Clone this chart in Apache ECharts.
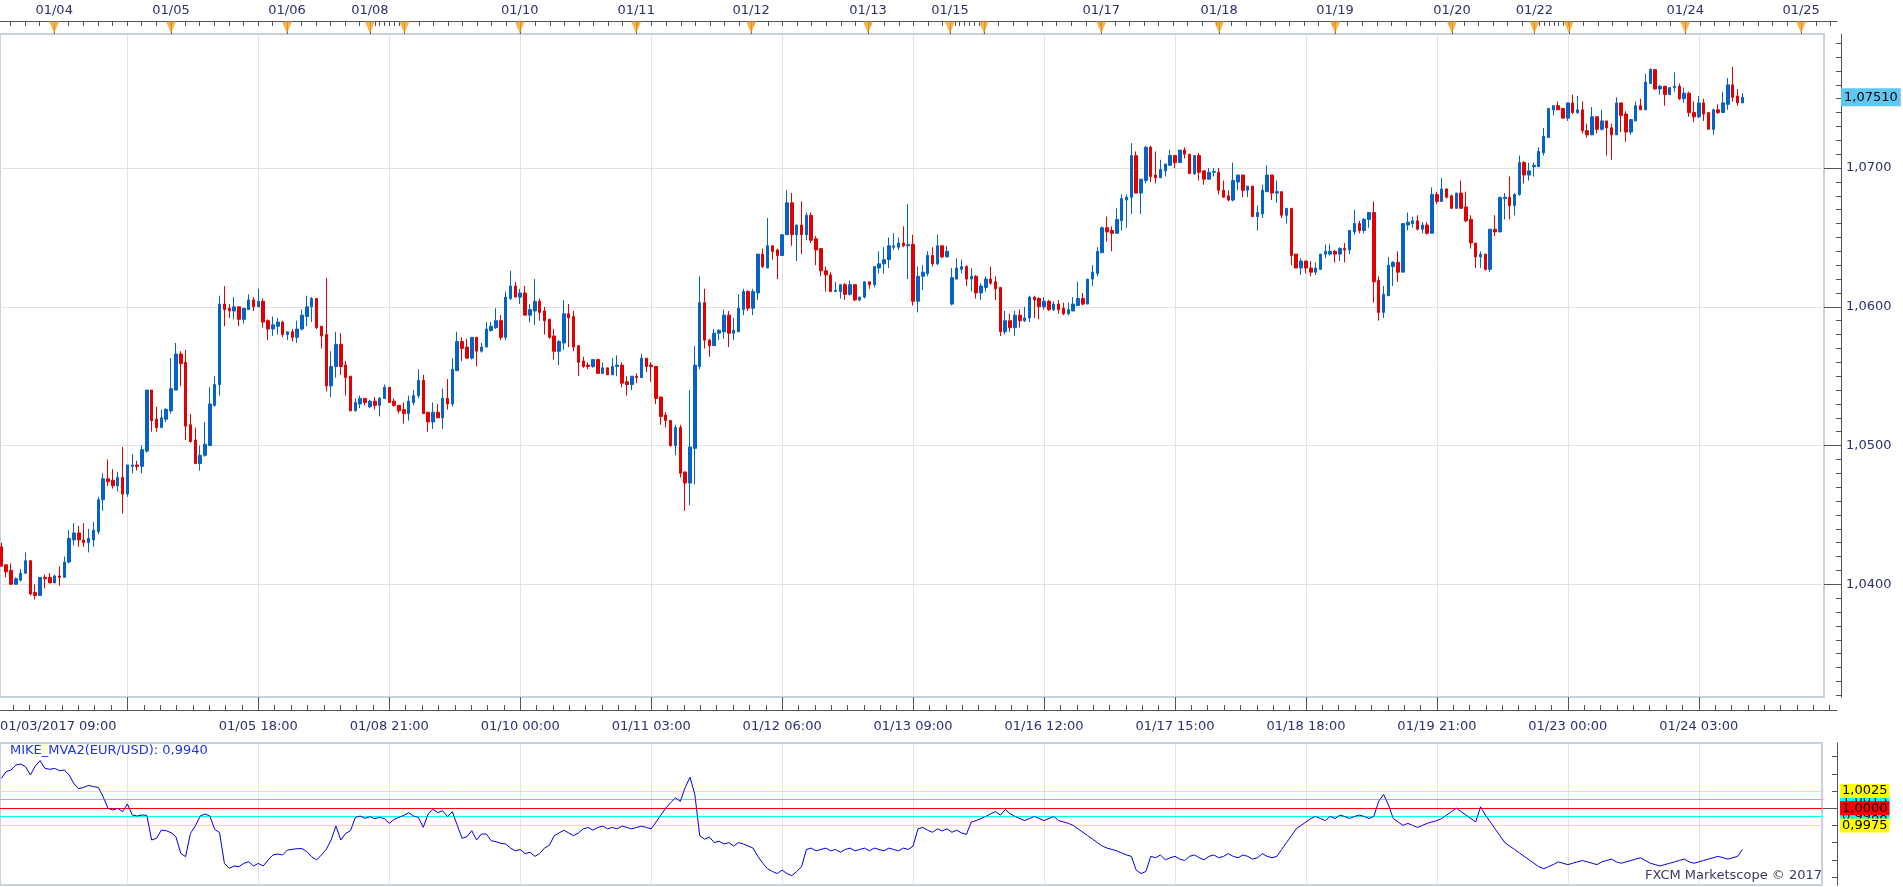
<!DOCTYPE html>
<html><head><meta charset="utf-8">
<script src="https://cdn.jsdelivr.net/npm/echarts@6/dist/echarts.min.js"></script>
<style>html,body{margin:0;padding:0;background:#fff}#c{width:1903px;height:887px}</style>
</head><body><div id="c"></div>
<script>
// ---------------- DATA ----------------
const open = [1.0427,1.0414,1.0410,1.0400,1.0403,1.0408,1.0417,1.0394,1.0392,1.0405,1.0405,1.0401,1.0406,1.0405,1.0416,1.0432,1.0437,1.0432,1.0430,1.0432,1.0438,1.0461,1.0476,1.0475,1.0471,1.0477,1.0465,1.0485,1.0486,1.0485,1.0496,1.0540,1.0519,1.0513,1.0519,1.0525,1.0540,1.0566,1.0560,1.0515,1.0504,1.0487,1.0493,1.0500,1.0529,1.0544,1.0602,1.0599,1.0597,1.0600,1.0591,1.0598,1.0605,1.0600,1.0604,1.0590,1.0584,1.0586,1.0589,1.0580,1.0582,1.0578,1.0584,1.0593,1.0600,1.0606,1.0586,1.0580,1.0543,1.0557,1.0573,1.0558,1.0550,1.0525,1.0530,1.0534,1.0528,1.0532,1.0529,1.0534,1.0542,1.0532,1.0529,1.0526,1.0523,1.0531,1.0536,1.0547,1.0524,1.0517,1.0524,1.0520,1.0534,1.0530,1.0554,1.0575,1.0571,1.0563,1.0578,1.0568,1.0571,1.0583,1.0585,1.0590,1.0578,1.0606,1.0615,1.0607,1.0610,1.0594,1.0597,1.0604,1.0597,1.0591,1.0579,1.0568,1.0574,1.0595,1.0593,1.0572,1.0561,1.0558,1.0557,1.0562,1.0552,1.0556,1.0551,1.0557,1.0558,1.0546,1.0544,1.0550,1.0549,1.0563,1.0558,1.0557,1.0535,1.0522,1.0518,1.0500,1.0513,1.0481,1.0473,1.0498,1.0557,1.0603,1.0576,1.0572,1.0581,1.0582,1.0594,1.0581,1.0582,1.0598,1.0611,1.0599,1.0610,1.0638,1.0628,1.0644,1.0641,1.0637,1.0652,1.0675,1.0652,1.0659,1.0652,1.0666,1.0649,1.0642,1.0626,1.0623,1.0611,1.0611,1.0616,1.0609,1.0616,1.0605,1.0607,1.0618,1.0616,1.0628,1.0631,1.0634,1.0643,1.0643,1.0646,1.0644,1.0645,1.0604,1.0622,1.0624,1.0637,1.0631,1.0644,1.0636,1.0602,1.0620,1.0627,1.0629,1.0620,1.0622,1.0610,1.0614,1.0620,1.0618,1.0614,1.0582,1.0590,1.0585,1.0594,1.0590,1.0592,1.0607,1.0606,1.0600,1.0604,1.0598,1.0602,1.0599,1.0595,1.0597,1.0601,1.0606,1.0602,1.0620,1.0624,1.0639,1.0657,1.0655,1.0653,1.0662,1.0677,1.0679,1.0709,1.0682,1.0691,1.0715,1.0695,1.0693,1.0698,1.0702,1.0709,1.0704,1.0713,1.0710,1.0696,1.0709,1.0698,1.0692,1.0697,1.0697,1.0684,1.0680,1.0677,1.0690,1.0695,1.0684,1.0687,1.0665,1.0667,1.0683,1.0695,1.0682,1.0683,1.0666,1.0671,1.0638,1.0628,1.0633,1.0628,1.0625,1.0627,1.0638,1.0638,1.0640,1.0638,1.0642,1.0641,1.0654,1.0660,1.0655,1.0663,1.0668,1.0619,1.0596,1.0608,1.0629,1.0632,1.0625,1.0659,1.0660,1.0662,1.0656,1.0659,1.0653,1.0681,1.0676,1.0685,1.0680,1.0671,1.0682,1.0672,1.0663,1.0646,1.0636,1.0638,1.0627,1.0656,1.0654,1.0678,1.0679,1.0673,1.0681,1.0704,1.0695,1.0701,1.0701,1.0711,1.0722,1.0742,1.0745,1.0743,1.0736,1.0747,1.0740,1.0742,1.0727,1.0724,1.0737,1.0728,1.0734,1.0729,1.0724,1.0747,1.0739,1.0726,1.0734,1.0745,1.0742,1.0761,1.0771,1.0757,1.0759,1.0753,1.0758,1.0759,1.0750,1.0754,1.0740,1.0737,1.0747,1.0740,1.0728,1.0742,1.0740,1.0746,1.0760,1.0752,1.0747];
const close = [1.0413,1.0409,1.0400,1.0404,1.0408,1.0417,1.0393,1.0392,1.0405,1.0404,1.0401,1.0406,1.0405,1.0416,1.0433,1.0437,1.0432,1.0430,1.0433,1.0439,1.0461,1.0476,1.0474,1.0471,1.0477,1.0465,1.0486,1.0486,1.0485,1.0497,1.0540,1.0518,1.0513,1.0520,1.0526,1.0541,1.0566,1.0559,1.0514,1.0503,1.0487,1.0493,1.0501,1.0530,1.0544,1.0602,1.0598,1.0597,1.0600,1.0591,1.0599,1.0605,1.0600,1.0604,1.0589,1.0584,1.0587,1.0589,1.0580,1.0582,1.0578,1.0584,1.0594,1.0600,1.0606,1.0585,1.0579,1.0543,1.0557,1.0573,1.0557,1.0549,1.0525,1.0531,1.0534,1.0531,1.0532,1.0529,1.0534,1.0542,1.0531,1.0529,1.0525,1.0523,1.0532,1.0536,1.0547,1.0523,1.0517,1.0524,1.0520,1.0534,1.0530,1.0555,1.0575,1.0570,1.0563,1.0578,1.0568,1.0571,1.0584,1.0586,1.0590,1.0578,1.0607,1.0615,1.0607,1.0610,1.0594,1.0598,1.0604,1.0596,1.0590,1.0578,1.0568,1.0575,1.0595,1.0592,1.0571,1.0560,1.0557,1.0557,1.0562,1.0552,1.0556,1.0551,1.0557,1.0558,1.0545,1.0544,1.0550,1.0549,1.0563,1.0557,1.0557,1.0534,1.0521,1.0518,1.0500,1.0513,1.0480,1.0473,1.0499,1.0558,1.0603,1.0576,1.0572,1.0581,1.0583,1.0594,1.0581,1.0583,1.0599,1.0611,1.0599,1.0611,1.0638,1.0629,1.0644,1.0640,1.0637,1.0652,1.0675,1.0652,1.0659,1.0652,1.0666,1.0648,1.0641,1.0626,1.0623,1.0611,1.0612,1.0616,1.0609,1.0616,1.0605,1.0607,1.0618,1.0616,1.0629,1.0631,1.0634,1.0644,1.0644,1.0646,1.0644,1.0645,1.0604,1.0622,1.0625,1.0637,1.0631,1.0644,1.0636,1.0640,1.0621,1.0628,1.0629,1.0620,1.0622,1.0610,1.0615,1.0620,1.0617,1.0613,1.0582,1.0590,1.0585,1.0594,1.0590,1.0592,1.0607,1.0605,1.0600,1.0604,1.0598,1.0602,1.0598,1.0595,1.0598,1.0602,1.0606,1.0602,1.0620,1.0625,1.0640,1.0657,1.0654,1.0653,1.0663,1.0678,1.0679,1.0709,1.0682,1.0692,1.0715,1.0694,1.0693,1.0699,1.0703,1.0709,1.0704,1.0713,1.0710,1.0696,1.0709,1.0697,1.0692,1.0697,1.06975,1.0684,1.0679,1.0677,1.0691,1.0695,1.0684,1.0687,1.0665,1.0668,1.0684,1.0695,1.0682,1.0683,1.0666,1.0671,1.0637,1.0628,1.0633,1.0628,1.0625,1.0628,1.0638,1.0640,1.0640,1.0638,1.0642,1.0641,1.0655,1.0660,1.0655,1.0663,1.0668,1.0618,1.0596,1.0609,1.0630,1.0632,1.0625,1.0660,1.0661,1.0662,1.0656,1.0659,1.0653,1.0681,1.0676,1.0685,1.0679,1.0671,1.0682,1.0671,1.0662,1.0646,1.0636,1.0638,1.0627,1.0656,1.0654,1.0679,1.0679,1.0673,1.0681,1.0704,1.0695,1.0698,1.0702,1.0712,1.0723,1.0743,1.0745,1.0742,1.0736,1.0747,1.0740,1.0742,1.0727,1.0724,1.0737,1.0728,1.0734,1.0729,1.0724,1.0747,1.0738,1.0726,1.0735,1.0745,1.0742,1.0762,1.0771,1.0757,1.0759,1.0753,1.0758,1.0759,1.0750,1.0754,1.0740,1.0737,1.0747,1.0739,1.0728,1.0742,1.0740,1.0747,1.0760,1.0751,1.0747,1.0751];
const low = [1.0413,1.0405,1.0400,1.0400,1.0402,1.0408,1.0392,1.0389,1.0392,1.0397,1.0401,1.0401,1.0399,1.0405,1.0415,1.0428,1.0427,1.0427,1.0423,1.0427,1.0436,1.0453,1.0471,1.0469,1.0467,1.0451,1.0463,1.0480,1.0482,1.0480,1.0495,1.0510,1.0510,1.0513,1.0517,1.0523,1.0540,1.0543,1.0504,1.0502,1.0487,1.0482,1.0492,1.0500,1.0528,1.0536,1.0586,1.0592,1.0591,1.0586,1.0588,1.0598,1.0597,1.0600,1.0585,1.0576,1.0579,1.0580,1.0578,1.0576,1.0575,1.0574,1.0583,1.0586,1.0589,1.0584,1.0570,1.0539,1.0535,1.0549,1.0551,1.0536,1.0525,1.0525,1.0527,1.0529,1.0527,1.0526,1.0521,1.0534,1.0531,1.0528,1.0523,1.0516,1.0518,1.0529,1.0534,1.0523,1.0510,1.0512,1.0520,1.0512,1.0526,1.0528,1.0554,1.0561,1.0563,1.0562,1.0557,1.0567,1.0571,1.0582,1.0584,1.0576,1.0576,1.0605,1.0607,1.0602,1.0594,1.0589,1.0587,1.0590,1.0580,1.0577,1.0562,1.0558,1.0569,1.0571,1.0568,1.0550,1.0556,1.0555,1.0556,1.0552,1.0552,1.0551,1.0551,1.0550,1.0542,1.0536,1.0540,1.0545,1.0549,1.0553,1.0546,1.0530,1.0515,1.0513,1.0499,1.0493,1.0477,1.0453,1.0457,1.0472,1.0555,1.0570,1.0564,1.0572,1.0576,1.0577,1.0571,1.0576,1.0582,1.0594,1.0597,1.0594,1.0605,1.0628,1.0628,1.0634,1.0620,1.0637,1.0652,1.0644,1.0633,1.0638,1.0648,1.0646,1.0630,1.0622,1.0611,1.0611,1.0611,1.0606,1.0605,1.0608,1.0604,1.0604,1.0606,1.0613,1.0614,1.0624,1.0624,1.0628,1.0641,1.0641,1.0643,1.0620,1.0601,1.0596,1.0612,1.0622,1.0629,1.0630,1.0635,1.0636,1.0601,1.0620,1.0624,1.0615,1.0611,1.0606,1.0605,1.0611,1.0616,1.0605,1.0579,1.0580,1.0582,1.0579,1.0585,1.0589,1.0589,1.0592,1.0591,1.0598,1.0597,1.0597,1.0595,1.0594,1.0594,1.0597,1.0601,1.0601,1.0602,1.0615,1.0622,1.0639,1.0647,1.0640,1.0653,1.0655,1.0657,1.0667,1.0682,1.0667,1.0689,1.0690,1.0689,1.0693,1.0694,1.0702,1.0700,1.0704,1.0707,1.0696,1.0695,1.0691,1.0688,1.0692,1.0694,1.0681,1.0679,1.0676,1.0676,1.0684,1.0679,1.0679,1.0665,1.0655,1.0664,1.0683,1.0677,1.0675,1.0664,1.0660,1.0630,1.0628,1.0623,1.0624,1.0622,1.0623,1.0627,1.0635,1.0637,1.0632,1.0633,1.0632,1.0638,1.0652,1.0653,1.0653,1.0657,1.0603,1.0590,1.0592,1.0608,1.0615,1.0618,1.0625,1.0655,1.0657,1.0655,1.0653,1.0652,1.0653,1.0674,1.0676,1.0678,1.0671,1.0671,1.0671,1.0661,1.0642,1.0628,1.0628,1.0626,1.0625,1.0651,1.0654,1.0663,1.0663,1.0666,1.0680,1.0689,1.0691,1.0694,1.0701,1.0709,1.0722,1.0738,1.0742,1.0736,1.0734,1.0739,1.0739,1.0725,1.0722,1.0724,1.0725,1.0727,1.0709,1.0706,1.0724,1.0726,1.0719,1.0724,1.0734,1.0742,1.0742,1.0761,1.0757,1.0753,1.0745,1.0753,1.0755,1.0749,1.0747,1.0737,1.0733,1.0736,1.0734,1.0728,1.0724,1.0739,1.0740,1.0742,1.0748,1.0745,1.0747];
const high = [1.0430,1.0414,1.0415,1.0405,1.0411,1.0423,1.0417,1.0400,1.0405,1.0407,1.0408,1.0407,1.0413,1.0420,1.0439,1.0444,1.0442,1.0444,1.0440,1.0445,1.0463,1.0480,1.0490,1.0483,1.0481,1.0499,1.0486,1.0494,1.0489,1.0500,1.0540,1.0540,1.0528,1.0526,1.0527,1.0563,1.0574,1.0568,1.0569,1.0523,1.0513,1.0500,1.0517,1.0542,1.0550,1.0608,1.0615,1.0602,1.0607,1.0600,1.0599,1.0609,1.0607,1.0613,1.0606,1.0591,1.0593,1.0592,1.0590,1.0582,1.0584,1.0590,1.0598,1.0608,1.0607,1.0606,1.0586,1.0621,1.0568,1.0582,1.0581,1.0561,1.0550,1.0534,1.0536,1.0534,1.0533,1.0535,1.0535,1.0544,1.0542,1.0534,1.0529,1.0531,1.0536,1.0540,1.0555,1.0551,1.0524,1.0531,1.0530,1.0541,1.0548,1.0563,1.0582,1.0578,1.0577,1.0578,1.0578,1.0574,1.0589,1.0589,1.0599,1.0594,1.0611,1.0626,1.0618,1.0613,1.0615,1.0602,1.0620,1.0606,1.0600,1.0591,1.0584,1.0576,1.0605,1.0602,1.0597,1.0572,1.0564,1.0560,1.0562,1.0562,1.0560,1.0556,1.0563,1.0565,1.0560,1.0550,1.0550,1.0552,1.0566,1.0563,1.0560,1.0557,1.0535,1.0524,1.0518,1.0515,1.0515,1.0481,1.0540,1.0572,1.0622,1.0613,1.0577,1.0584,1.0584,1.0598,1.0597,1.0592,1.0609,1.0613,1.0612,1.0613,1.0638,1.0642,1.0664,1.0644,1.0642,1.0652,1.0684,1.0682,1.0659,1.0676,1.0668,1.0668,1.0651,1.0642,1.0629,1.0625,1.0618,1.0616,1.0617,1.0619,1.0616,1.0607,1.0618,1.0618,1.0629,1.0640,1.0643,1.0650,1.0653,1.0650,1.0658,1.0674,1.0652,1.0629,1.0630,1.0640,1.0643,1.0652,1.0644,1.0644,1.0628,1.0635,1.0634,1.0630,1.0628,1.0623,1.0617,1.0622,1.0629,1.0622,1.0614,1.0597,1.0595,1.0597,1.0598,1.0600,1.0608,1.0608,1.0607,1.0607,1.0605,1.0604,1.0605,1.0603,1.0603,1.0607,1.0618,1.0610,1.0620,1.0630,1.0643,1.0658,1.0665,1.0658,1.0671,1.0681,1.0681,1.0718,1.0712,1.0692,1.0716,1.0716,1.0712,1.0706,1.0703,1.0713,1.0709,1.0713,1.0715,1.0710,1.0709,1.0711,1.0698,1.0700,1.0700,1.0700,1.0691,1.0684,1.0704,1.0695,1.0695,1.0687,1.0687,1.0673,1.0688,1.0702,1.0695,1.0691,1.0683,1.0671,1.0671,1.0638,1.0635,1.0633,1.0633,1.0632,1.0638,1.0645,1.0645,1.0641,1.0643,1.0646,1.0655,1.0670,1.0662,1.0664,1.0668,1.0676,1.0622,1.0615,1.0636,1.0633,1.0640,1.0660,1.0668,1.0665,1.0666,1.0661,1.0661,1.0686,1.0683,1.0693,1.0685,1.0681,1.0682,1.0691,1.0683,1.0666,1.0646,1.0640,1.0638,1.0656,1.0666,1.0679,1.0682,1.0694,1.0682,1.0709,1.0705,1.0704,1.0704,1.0715,1.0729,1.0743,1.0745,1.0748,1.0743,1.0747,1.0753,1.0752,1.0748,1.0732,1.0744,1.0737,1.0742,1.0734,1.0732,1.0751,1.0747,1.0741,1.0735,1.0748,1.0750,1.0768,1.0772,1.0771,1.0760,1.0759,1.0758,1.0769,1.0761,1.0758,1.0755,1.0748,1.0752,1.0750,1.0740,1.0743,1.0746,1.0755,1.0765,1.0773,1.0757,1.0754];
const mva = [1.00434,1.00531,1.00555,1.00628,1.00642,1.00603,1.00482,1.00613,1.00691,1.00579,1.00565,1.00579,1.00545,1.00555,1.00482,1.00352,1.00284,1.00303,1.00332,1.00313,1.00303,1.00167,0.99998,0.99974,0.99998,0.99949,1.00061,0.99901,0.99886,0.99901,0.99896,0.99538,0.99562,0.99683,0.99673,0.99644,0.99586,0.99344,0.99295,0.99634,0.99741,0.99886,0.99915,0.99886,0.99693,0.99644,0.99198,0.99126,0.9916,0.9915,0.99198,0.99223,0.9916,0.99198,0.9916,0.99247,0.9932,0.99334,0.9932,0.99392,0.99402,0.99412,0.99412,0.99368,0.99295,0.99247,0.9932,0.99402,0.99538,0.99741,0.99538,0.99634,0.99673,0.99867,0.99886,0.99852,0.99877,0.99848,0.99867,0.99848,0.9978,0.99838,0.99867,0.99896,0.99935,0.99886,0.99867,0.99722,0.99915,0.99983,0.99935,0.99964,0.99877,0.99949,0.99756,0.99562,0.99586,0.99673,0.99538,0.99625,0.99625,0.99528,0.99513,0.99489,
0.9948,0.9942,0.9938,0.994,0.9934,0.9936,0.993,0.9934,0.9942,0.9946,
0.996,0.9964,0.9968,0.9964,0.996,0.9964,
0.997,0.9972,0.9968,0.9972,0.9974,0.997,0.9972,0.997,0.9974,0.9972,0.997,0.9972,0.9974,0.9972,0.997,
0.998,0.999,1.0,1.0008,1.0015,1.001,1.003,1.0045,1.002,
0.996,0.9955,0.9958,0.995,0.9952,0.9948,0.995,0.9945,0.995,0.9948,0.9945,0.9942,
0.993,0.992,0.9912,0.9908,0.9905,0.991,0.9905,0.9902,0.9908,0.9915,
0.994,0.9942,0.9938,0.994,0.9942,0.9938,0.994,0.9936,0.994,0.9942,0.9938,0.994,0.9942,0.9938,0.9942,0.994,0.9938,0.9942,0.994,0.9938,0.9942,0.994,0.9945,
0.997,0.9972,0.9968,0.9965,0.997,0.9967,0.997,0.9965,0.9968,0.9964,0.9962,
0.998,0.9982,0.9985,0.9988,0.9992,0.9995,0.999,0.9998,0.9992,0.9988,0.9985,0.9982,0.9985,0.9988,0.9985,0.9982,0.9985,0.9988,0.9982,0.998,0.9978,
0.9975,0.997,0.9965,0.996,0.9955,0.995,0.9945,0.9942,0.994,0.9938,0.9935,0.9932,0.993,
0.991,0.9905,0.9908,
0.993,0.9928,0.9932,0.9925,0.9928,0.993,0.9926,0.9924,0.993,0.9932,0.9928,0.9925,0.993,0.9932,0.9928,0.993,0.9934,0.993,0.9928,0.9932,0.993,0.9926,0.9928,0.9934,0.993,0.9928,0.993,
0.994,0.995,0.996,0.997,0.9975,0.998,0.9985,0.9988,0.9985,0.9982,0.9988,0.9985,0.999,0.9988,0.9985,0.9988,0.999,0.9988,0.9985,0.9988,
1.001,1.002,1.0005,0.9985,0.998,0.9975,0.9978,
0.9975,0.9972,0.9975,0.9978,0.998,0.9982,0.9985,0.999,0.9995,1.0,0.9995,0.999,0.9985,0.998,
1.0002,0.999,0.998,0.997,0.996,0.995,0.9945,0.994,0.9935,0.993,0.9925,0.992,0.9915,0.9912,0.9915,0.9918,
0.9922,0.992,0.9918,0.992,0.9922,0.9924,0.9922,0.992,0.9918,0.9922,0.9924,0.9926,0.9922,0.992,0.9922,0.9924,0.9926,0.9928,0.9924,0.992,0.9918,0.9916,0.9918,0.992,0.9922,0.9924,0.9926,0.9922,0.992,0.9922,0.9924,0.9926,0.9928,0.993,0.9928,0.9926,0.9928,0.993,0.994];

// level lines (listed in drawing order, later ones on top)
const levelValues = [1.0013, 0.9988, 1.0025, 0.9975, 1.0000];
const levelColors = ['#00ffff', '#00ffff', '#ffff00', '#ffff00', '#ff0000'];

const dayMarkers = [10.9, 35.0, 58.9, 76.0, 83.1, 106.9, 130.9, 154.6, 178.7, 195.6, 202.6, 226.8, 251.1, 275.0, 299.1, 316.1, 323.2, 347.2, 371.1];
const dayLabels  = ['01/04','01/05','01/06','01/08','','01/10','01/11','01/12','01/13','01/15','','01/17','01/18','01/19','01/20','01/22','','01/24','01/25'];

const timeGrid   = [26, 53, 80, 107, 134, 161, 188, 215, 242, 269, 296, 323, 350];
const timeLabels = ['', '01/05 18:00', '01/08 21:00', '01/10 00:00', '01/11 03:00', '01/12 06:00', '01/13 09:00', '01/16 12:00', '01/17 15:00', '01/18 18:00', '01/19 21:00', '01/23 00:00', '01/24 03:00'];
const firstTimeLabel = '01/03/2017 09:00';

const priceTicks = [1.04, 1.05, 1.06, 1.07];
const mvaTicks = [0.99, 0.9925, 0.995, 0.9975, 1.0, 1.0025, 1.005, 1.0075];
const indicatorName = 'MIKE_MVA2(EUR/USD)';
const footer = 'FXCM Marketscope © 2017';

// ---------------- LAYOUT ----------------
const FONT = 'DejaVu Sans';
const TEXT = '#2d2f6e';
const AXIS = '#50545e';
const GRIDLINE = '#e2e2e2';
const FRAME = '#c9d1dc';
const UP = '#0563c7', DOWN = '#e00000';

const BAR_PX = 4.85, BAR0_PX = 1.3;
const X_MIN = -BAR0_PX / BAR_PX;
const xMaxFor = w => (w - BAR0_PX) / BAR_PX;

const MAIN = {top: 34, height: 663, width: 1824};
const IND = {top: 743, height: 142, width: 1822};
const AXIS_W = 1837;
const TOPSTRIP = {top: 21, height: 13};
const BOTSTRIP = {top: 697, height: 13};

const P_REF = 1.07, P_REF_Y = 168.1, P_K = 13873;
const mainMax = P_REF + (P_REF_Y - MAIN.top) / P_K;
const mainMin = P_REF - (MAIN.top + MAIN.height - P_REF_Y) / P_K;
const I_REF = 1.0, I_REF_Y = 808.2, I_K = 6880;
const indMax = I_REF + (I_REF_Y - IND.top) / I_K;
const indMin = I_REF - (IND.top + IND.height - I_REF_Y) / I_K;

const fmt = (v, d) => v.toFixed(d).replace('.', ',');
const near = (arr, v) => arr.findIndex(a => Math.abs(a - v) < 1e-6);

const minorPrice = [];
for (let k = 1032; k <= 1079; k++) minorPrice.push(k / 1000);
const minorTime = [];
for (let k = -8; k <= 110; k++) { const v = 26 + k * 27 / 8; if (v >= X_MIN && v <= xMaxFor(AXIS_W)) minorTime.push(v); }
const topTicks = [];
const segs = [[1.9, 76.0, 3], [76.0, 83.1, 1], [83.1, 195.6, 3], [195.6, 202.6, 1], [202.6, 316.1, 3], [316.1, 323.2, 1], [323.2, 378.4, 3]];
segs.forEach(([a, b, s]) => { for (let v = a; v < b - 0.01; v += s) topTicks.push(v); });

const labeledDays = dayMarkers.filter((m, i) => dayLabels[i] !== '');

const candleRows = open.map((o, i) => [i, o, close[i], low[i], high[i]]);
const mvaRows = mva.map((v, i) => [i, v]);
const lastClose = close[close.length - 1];
const lastMva = mva[mva.length - 1];

const chart = echarts.init(document.getElementById('c'), null, {renderer: 'canvas'});
const txt = {fontFamily: FONT, fontSize: 13, color: TEXT};

const hiddenX = (grid, w, extra) => Object.assign({
  type: 'value', gridIndex: grid, min: X_MIN, max: xMaxFor(w),
  axisLine: {show: false, onZero: false}, axisTick: {show: false}, axisLabel: {show: false}, splitLine: {show: false}
}, extra || {});
const yBase = (grid, min, max, offset, extra) => Object.assign({
  type: 'value', gridIndex: grid, position: 'right', offset: offset, min: min, max: max,
  axisLine: {show: false, onZero: false}, axisTick: {show: false}, axisLabel: {show: false}, splitLine: {show: false}
}, extra || {});

chart.setOption({
  animation: false,
  backgroundColor: '#ffffff',
  textStyle: {fontFamily: FONT},
  title: [
    {text: indicatorName + ': ' + fmt(lastMva, 4), left: 10, top: 744, padding: 0,
     textStyle: {fontFamily: FONT, fontSize: 13, fontWeight: 'normal', color: '#1f33e6'}},
    {text: footer, right: 1903 - IND.width, top: 869, padding: 0,
     textStyle: {fontFamily: FONT, fontSize: 13, fontWeight: 'normal', color: '#3a3b5e'}}
  ],
  grid: [
    {left: 0, top: MAIN.top, width: MAIN.width, height: MAIN.height, show: true, borderColor: FRAME, borderWidth: 2, outerBoundsMode: 'none', containLabel: false},
    {left: 0, top: IND.top, width: IND.width, height: IND.height, show: true, borderColor: FRAME, borderWidth: 2, outerBoundsMode: 'none', containLabel: false},
    {left: 0, top: TOPSTRIP.top, width: AXIS_W, height: TOPSTRIP.height, show: false, outerBoundsMode: 'none', containLabel: false},
    {left: 0, top: BOTSTRIP.top, width: AXIS_W, height: BOTSTRIP.height, show: false, outerBoundsMode: 'none', containLabel: false}
  ],
  xAxis: [
    hiddenX(0, MAIN.width, {axisTick: {show: false, customValues: timeGrid}, splitLine: {show: true, lineStyle: {color: GRIDLINE, width: 1}}}),
    hiddenX(1, IND.width, {axisTick: {show: false, customValues: timeGrid}, splitLine: {show: true, lineStyle: {color: GRIDLINE, width: 1}}}),
    hiddenX(2, AXIS_W, {position: 'top',
      axisLine: {show: true, onZero: false, lineStyle: {color: AXIS, width: 1}},
      axisTick: {show: true, inside: true, length: 5, customValues: topTicks, lineStyle: {color: AXIS}},
      axisLabel: Object.assign({show: true, margin: 4, customValues: labeledDays,
        formatter: v => dayLabels[near(dayMarkers, v)] || ''}, txt)}),
    hiddenX(3, AXIS_W, {position: 'bottom',
      axisLine: {show: true, onZero: false, lineStyle: {color: AXIS, width: 1}},
      axisTick: {show: true, inside: true, length: BOTSTRIP.height, customValues: timeGrid, lineStyle: {color: AXIS}},
      axisLabel: Object.assign({show: true, margin: 10, customValues: timeGrid.slice(1),
        formatter: v => timeLabels[near(timeGrid, v)] || ''}, txt)}),
    hiddenX(3, AXIS_W, {position: 'bottom',
      axisTick: {show: true, inside: true, length: 5, customValues: minorTime, lineStyle: {color: AXIS}}}),
    hiddenX(3, AXIS_W, {position: 'bottom',
      axisLabel: Object.assign({show: true, margin: 10, align: 'left', customValues: [X_MIN],
        formatter: () => firstTimeLabel}, txt)}),
    hiddenX(2, AXIS_W, {position: 'top',
      axisTick: {show: true, inside: true, length: TOPSTRIP.height, customValues: dayMarkers, lineStyle: {color: AXIS}}})
  ],
  yAxis: [
    yBase(0, mainMin, mainMax, 17, {
      axisLine: {show: true, onZero: false, lineStyle: {color: AXIS}},
      axisTick: {show: true, inside: true, length: 17, customValues: priceTicks, lineStyle: {color: AXIS}},
      axisLabel: Object.assign({show: true, margin: 5, customValues: priceTicks, formatter: v => fmt(v, 4)}, txt),
      splitLine: {show: true, lineStyle: {color: GRIDLINE, width: 1}}}),
    yBase(0, mainMin, mainMax, 17, {
      axisTick: {show: true, inside: true, length: 5, customValues: minorPrice, lineStyle: {color: AXIS}}}),
    yBase(1, indMin, indMax, 15, {
      axisLine: {show: true, onZero: false, lineStyle: {color: AXIS}},
      axisTick: {show: true, inside: true, length: 5, customValues: mvaTicks, lineStyle: {color: AXIS}}}),
    yBase(1, indMin, indMax, 15, {
      axisTick: {show: true, inside: true, length: 14, customValues: [I_REF], lineStyle: {color: AXIS}}}),
    {type: 'value', gridIndex: 2, min: 0, max: 1, show: false},
    {type: 'value', gridIndex: 3, min: 0, max: 1, show: false}
  ],
  series: [
    {
      type: 'candlestick', xAxisIndex: 0, yAxisIndex: 0,
      dimensions: ['x', 'open', 'close', 'low', 'high'],
      encode: {x: 'x', y: ['open', 'close', 'low', 'high']},
      data: candleRows, barWidth: 3,
      itemStyle: {color: UP, color0: DOWN, borderColor: UP, borderColor0: DOWN, borderWidth: 1},
      markLine: {
        silent: true, symbol: ['none', 'none'], animation: false, precision: 5,
        lineStyle: {color: 'rgba(0,0,0,0)', width: 1},
        label: {show: true, position: 'end', distance: 17, formatter: () => fmt(lastClose, 5),
          backgroundColor: '#5ec8f2', color: '#000', padding: [3, 3, 2, 3], fontFamily: FONT, fontSize: 13},
        data: [{yAxis: lastClose}]
      }
    },
    {
      type: 'line', xAxisIndex: 1, yAxisIndex: 2, data: mvaRows, showSymbol: false, symbol: 'none',
      lineStyle: {color: '#0000e6', width: 1}, z: 4,
      markLine: {
        silent: true, symbol: ['none', 'none'], animation: false, precision: 5, z: 1,
        label: {show: true, position: 'end', distance: 18, color: '#000', padding: [1, 2, 0, 2],
          fontFamily: FONT, fontSize: 13, formatter: p => fmt(p.value, 4)},
        data: levelValues.map((v, i) => ({yAxis: v,
          lineStyle: {color: levelColors[i], width: 1, type: 'solid'},
          label: {backgroundColor: levelColors[i]}}))
      }
    },
    {
      type: 'scatter', xAxisIndex: 2, yAxisIndex: 4,
      data: dayMarkers.map(m => [m, 0.5]),
      symbol: 'triangle', symbolRotate: 180, symbolSize: [10, 12],
      itemStyle: {color: '#f7a21b'}, silent: true, z: 5
    }
  ]
});
</script>
</body></html>
